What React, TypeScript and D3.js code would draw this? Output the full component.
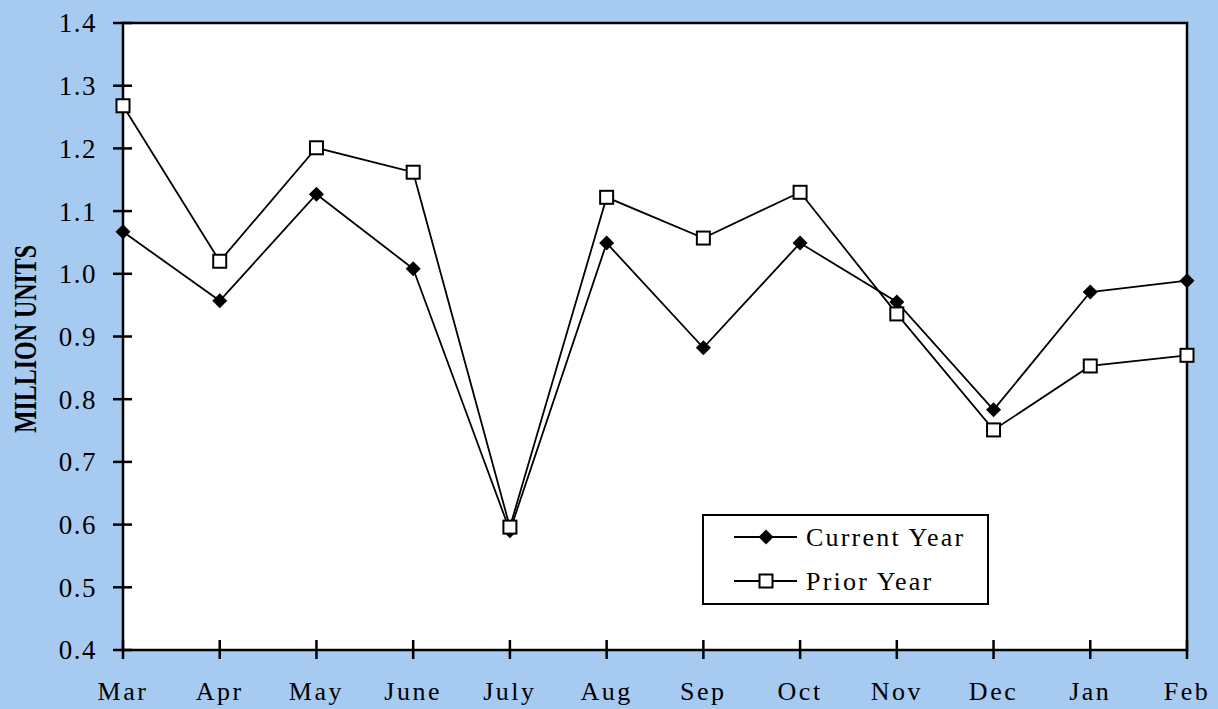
import React from "react";
import * as d3 from "d3";

const months = ["Mar", "Apr", "May", "June", "July", "Aug", "Sep", "Oct", "Nov", "Dec", "Jan", "Feb"];
const currentYear = [1.067, 0.957, 1.127, 1.008, 0.59, 1.049, 0.882, 1.049, 0.955, 0.783, 0.971, 0.989];
const priorYear = [1.268, 1.02, 1.201, 1.162, 0.596, 1.122, 1.057, 1.13, 0.936, 0.751, 0.853, 0.87];
const yTicks = [0.4, 0.5, 0.6, 0.7, 0.8, 0.9, 1.0, 1.1, 1.2, 1.3, 1.4];

const W = 1218, H = 709;
const L = 123, R = 1187, T = 23, B = 650;

export default function App() {
  const x = d3.scalePoint<string>().domain(months).range([L, R]);
  const y = d3.scaleLinear().domain([0.4, 1.4]).range([B, T]);
  const line = d3.line<number>().x((_, i) => x(months[i])!).y((d) => y(d));
  const font = "'Liberation Serif', 'Times New Roman', serif";
  const diamond = (cx: number, cy: number, r = 7.5) =>
    `M${cx},${cy - r}L${cx + r},${cy}L${cx},${cy + r}L${cx - r},${cy}Z`;

  const legX = 703, legY = 515, legW = 285, legH = 89;
  const legRows = [537, 581];

  return (
    <svg width={W} height={H} style={{ position: "absolute", left: 0, top: 0 }}>
      <rect x={0} y={0} width={W} height={H} fill="#a6caf0" />
      <rect x={L} y={T} width={R - L} height={B - T} fill="#fff" stroke="#000" strokeWidth={2.5} />
      {yTicks.map((t) => (
        <g key={t}>
          <line x1={L - 10} x2={L + 9} y1={y(t)} y2={y(t)} stroke="#000" strokeWidth={2.5} />
          <text x={97} y={y(t)} dy="0.35em" textAnchor="end" fontFamily={font} fontSize={27} fill="#000" letterSpacing={1.5}>
            {t.toFixed(1)}
          </text>
        </g>
      ))}
      {months.map((m) => (
        <g key={m}>
          <line x1={x(m)} x2={x(m)} y1={B - 10} y2={B + 9} stroke="#000" strokeWidth={2.5} />
          <text x={x(m)} y={700} textAnchor="middle" fontFamily={font} fontSize={26} fill="#000" letterSpacing={2.5}>
            {m}
          </text>
        </g>
      ))}
      <text
        transform={`translate(36,339) rotate(-90)`}
        textAnchor="middle"
        fontFamily={font}
        fontWeight="bold"
        fontSize={31}
        textLength={188}
        lengthAdjust="spacingAndGlyphs"
        fill="#000"
      >
        MILLION UNITS
      </text>
      <path d={line(currentYear)!} fill="none" stroke="#000" strokeWidth={1.8} />
      <path d={line(priorYear)!} fill="none" stroke="#000" strokeWidth={1.8} />
      {currentYear.map((v, i) => (
        <path key={"c" + i} d={diamond(x(months[i])!, y(v))} fill="#000" />
      ))}
      {priorYear.map((v, i) => (
        <rect key={"p" + i} x={x(months[i])! - 6.5} y={y(v) - 6.5} width={13} height={13} fill="#fff" stroke="#000" strokeWidth={2} />
      ))}
      <rect x={legX} y={legY} width={legW} height={legH} fill="#fff" stroke="#000" strokeWidth={2} />
      <line x1={734} x2={797} y1={legRows[0]} y2={legRows[0]} stroke="#000" strokeWidth={1.8} />
      <path d={diamond(766, legRows[0])} fill="#000" />
      <text x={806} y={legRows[0]} dy="0.35em" fontFamily={font} fontSize={26} fill="#000" letterSpacing={2.2}>
        Current Year
      </text>
      <line x1={734} x2={797} y1={legRows[1]} y2={legRows[1]} stroke="#000" strokeWidth={1.8} />
      <rect x={766 - 6.5} y={legRows[1] - 6.5} width={13} height={13} fill="#fff" stroke="#000" strokeWidth={2} />
      <text x={806} y={legRows[1]} dy="0.35em" fontFamily={font} fontSize={26} fill="#000" letterSpacing={2.2}>
        Prior Year
      </text>
    </svg>
  );
}
